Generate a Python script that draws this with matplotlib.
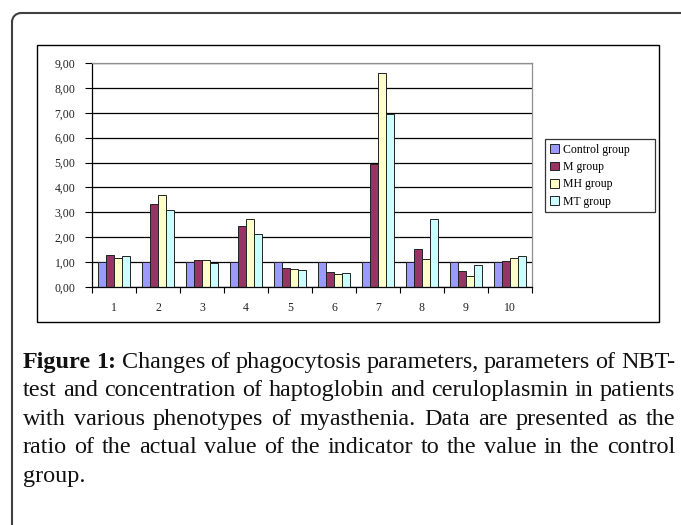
import numpy as np
import matplotlib
matplotlib.use('Agg')
import matplotlib.pyplot as plt
from matplotlib.patches import Rectangle, Arc
from matplotlib.lines import Line2D
from matplotlib.ticker import FuncFormatter, FixedLocator

W, H = 681, 525

categories = ['1', '2', '3', '4', '5', '6', '7', '8', '9', '10']
groups = ['Control group', 'M group', 'MH group', 'MT group']
control = [1.00, 1.00, 1.00, 1.00, 1.00, 1.00, 1.00, 1.00, 1.00, 1.00]
m_group = [1.28, 3.35, 1.07, 2.45, 0.77, 0.62, 4.95, 1.52, 0.66, 1.04]
mh_group = [1.17, 3.70, 1.07, 2.72, 0.73, 0.52, 8.60, 1.13, 0.45, 1.17]
mt_group = [1.24, 3.10, 0.97, 2.13, 0.70, 0.56, 6.95, 2.72, 0.87, 1.24]
colors = ['#9999FF', '#993366', '#FFFFCC', '#CCFFFF']

caption_lines = [
    [('Figure', 'bold'), ('1:', 'bold'), ('Changes', 'normal'), ('of', 'normal'),
     ('phagocytosis', 'normal'), ('parameters,', 'normal'), ('parameters', 'normal'),
     ('of', 'normal'), ('NBT-', 'normal')],
    'test and concentration of haptoglobin and ceruloplasmin in patients',
    'with various phenotypes of myasthenia. Data are presented as the',
    'ratio of the actual value of the indicator to the value in the control',
    'group.',
]


def fx(px):
    return px / W


def fy(py):
    return 1 - py / H


fig = plt.figure(figsize=(W / 100, H / 100), dpi=100)
fig.patch.set_facecolor('white')

# outer rounded frame, open to the right and bottom
r = 9
fcol = '#404040'
fig.add_artist(Line2D([fx(12), fx(12)], [fy(13 + r), fy(530)], color=fcol, lw=1.5))
fig.add_artist(Line2D([fx(12 + r), fx(690)], [fy(13), fy(13)], color=fcol, lw=1.5))
fig.add_artist(Arc((fx(12 + r), fy(13 + r)), 2 * r / W, 2 * r / H, theta1=90, theta2=180,
                   transform=fig.transFigure, color=fcol, lw=1.5))

# chart frame
frame = Rectangle((fx(37), fy(322)), fx(659) - fx(37), fy(45) - fy(322),
                  transform=fig.transFigure, fill=False,
                  edgecolor='black', linewidth=1.0)
fig.patches.append(frame)

ax = fig.add_axes([fx(92), fy(287), fx(532) - fx(92), fy(63) - fy(287)])

series = [control, m_group, mh_group, mt_group]
x = np.arange(1, len(categories) + 1)
bw = 1 / 5.5
for i, (vals, c, lab) in enumerate(zip(series, colors, groups)):
    ax.bar(x + (i - 1.5) * bw, vals, width=bw, color=c, edgecolor='#222222',
           linewidth=0.7, label=lab, zorder=3)

ax.set_xlim(0.5, len(categories) + 0.5)
ax.set_ylim(0, 9)
ax.set_yticks(np.arange(0, 10, 1))
ax.yaxis.set_major_formatter(FuncFormatter(lambda v, p: '{:.2f}'.format(v).replace('.', ',')))
ax.set_xticks(x)
ax.set_xticklabels(categories)
ax.xaxis.set_minor_locator(FixedLocator(np.arange(0.5, len(categories) + 1, 1)))
ax.tick_params(axis='x', which='major', length=0, pad=11)
ax.tick_params(axis='x', which='minor', length=4, width=0.8, direction='out')
ax.tick_params(axis='y', length=5, width=0.8, direction='out', pad=7)
for lab in ax.get_xticklabels() + ax.get_yticklabels():
    lab.set_fontfamily('Liberation Serif')
    lab.set_fontsize(8.5)
    lab.set_color('#222222')

ax.grid(axis='y', color='black', linewidth=0.9, zorder=0)
ax.set_axisbelow(True)
ax.spines['left'].set_color('black')
ax.spines['bottom'].set_color('black')
ax.spines['top'].set_color('#909090')
ax.spines['right'].set_color('#909090')
for s in ax.spines.values():
    s.set_linewidth(0.9)
    s.set_zorder(4)

leg = fig.legend(loc='upper left',
                 bbox_to_anchor=(fx(545), fy(212), fx(655) - fx(545), fy(139) - fy(212)),
                 bbox_transform=fig.transFigure, mode='expand',
                 prop={'family': 'Liberation Serif', 'size': 8.5},
                 frameon=True, fancybox=False, handlelength=0.75, handleheight=0.75,
                 handletextpad=0.35, labelspacing=0.45, borderpad=0.4, borderaxespad=0)
leg.get_frame().set_edgecolor('black')
leg.get_frame().set_linewidth(0.9)

# caption, justified
fig.canvas.draw()
renderer = fig.canvas.get_renderer()
left_px, right_px = 23, 675
probe = fig.text(0, 0, caption_lines[1], family='Liberation Serif', fontsize=10)
w10 = probe.get_window_extent(renderer).width
probe.remove()
fs = 10 * (right_px - left_px - 4) / w10

base0 = 368
step = 28.4
for li, line in enumerate(caption_lines):
    if isinstance(line, str):
        words = [(w, 'normal') for w in line.split()]
    else:
        words = line
    y = fy(base0 + li * step)
    arts = []
    widths = []
    for w, wt in words:
        t = fig.text(0, y, w, family='Liberation Serif', fontsize=fs,
                     fontweight=wt, va='baseline', ha='left', color='#111111')
        arts.append(t)
        widths.append(t.get_window_extent(renderer).width)
    justify = li < len(caption_lines) - 1
    if justify and len(words) > 1:
        gap = (right_px - left_px - sum(widths)) / (len(words) - 1)
    else:
        gap = fs * 0.25 * 100 / 72
    xp = left_px
    for t, wdt in zip(arts, widths):
        t.set_x(fx(xp))
        xp += wdt + gap

fig.savefig('out.png', dpi=100)
